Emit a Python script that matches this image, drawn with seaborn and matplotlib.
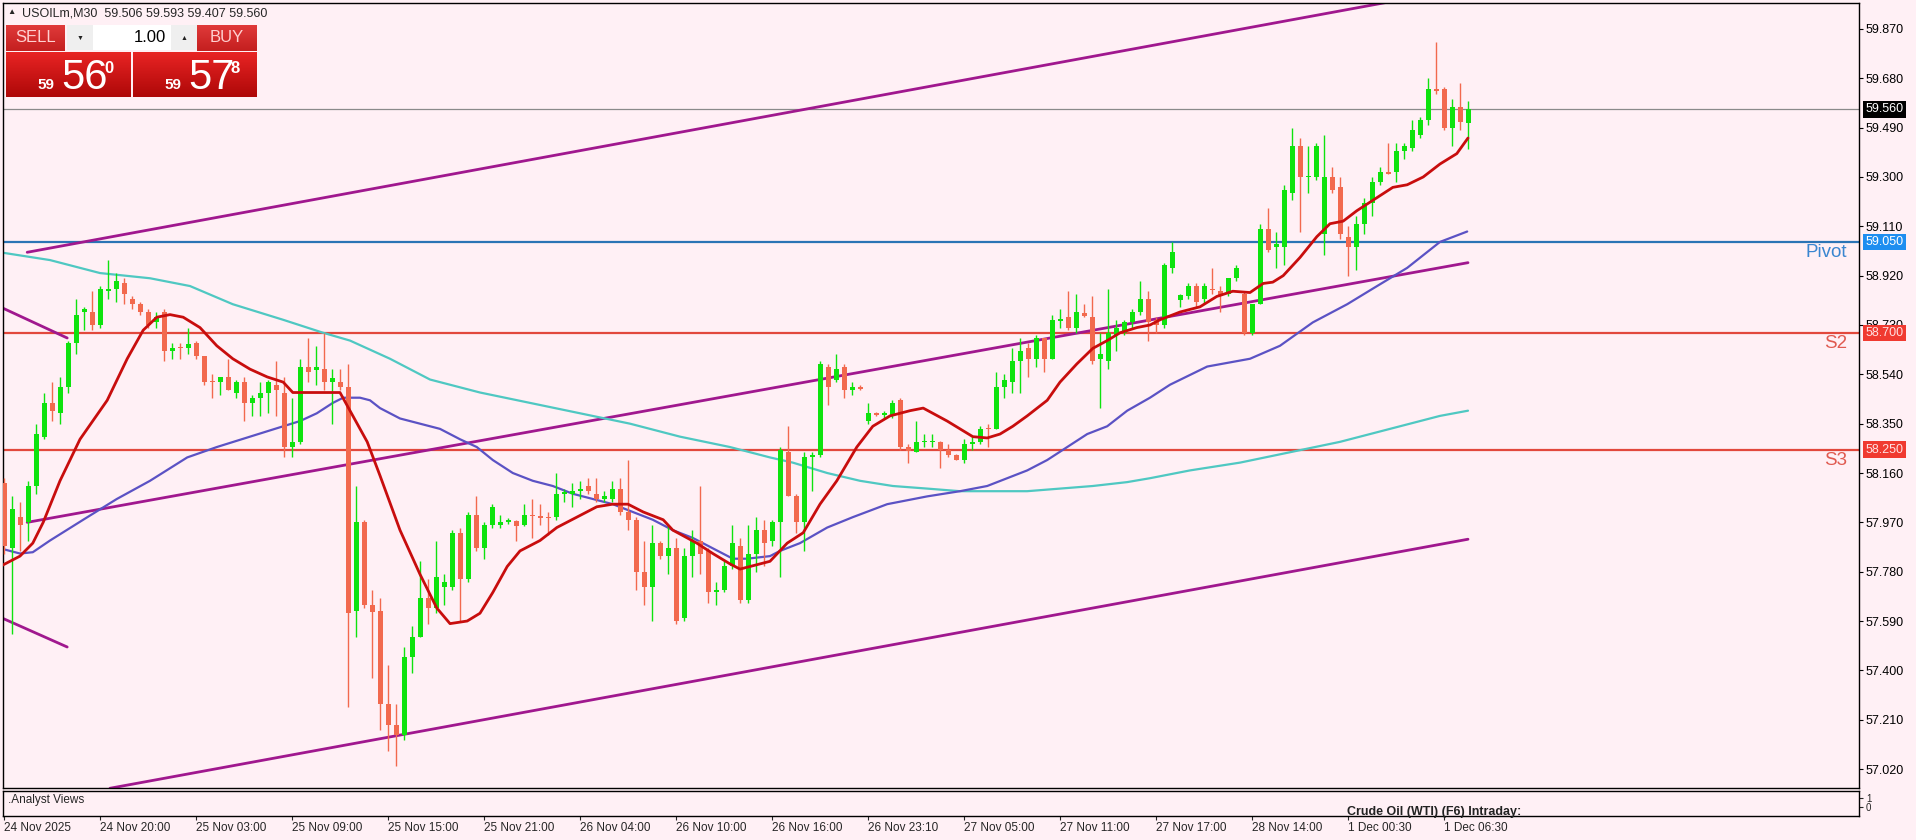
import numpy as np
import pandas as pd
import matplotlib.pyplot as plt
import seaborn as sns
from matplotlib.colors import LinearSegmentedColormap

# ---- candle data (USOILm, M30), bar index 0..183 ----
opens = [
    58.12, 57.87, 57.99, 57.97, 58.11, 58.30, 58.43, 58.39, 58.49, 58.66,
    58.78, 58.78, 58.73, 58.86, 58.87, 58.89, 58.83, 58.81, 58.78, 58.74,
    58.78, 58.63, 58.645, 58.64, 58.66, 58.61, 58.515, 58.51, 58.53, 58.47,
    58.51, 58.43, 58.45, 58.47, 58.50, 58.47, 58.26, 58.28, 58.57, 58.555,
    58.56, 58.51, 58.51, 58.49, 57.63, 57.97, 57.65, 57.63, 57.27, 57.19,
    57.15, 57.45, 57.53, 57.68, 57.64, 57.72, 57.72, 57.93, 57.75, 58.00,
    57.87, 57.96, 57.96, 57.97, 57.975, 57.96, 58.00, 57.995, 57.99, 57.99,
    58.08, 58.08, 58.09, 58.11, 58.08, 58.06, 58.06, 58.10, 58.01, 57.98,
    57.78, 57.72, 57.89, 57.84, 57.87, 57.60, 57.84, 57.90, 57.86, 57.70,
    57.71, 57.80, 57.88, 57.67, 57.85, 57.94, 57.90, 57.97, 58.24, 58.07,
    57.97, 58.22, 58.23, 58.57, 58.52, 58.57, 58.48, 58.49, 58.36, 58.39,
    58.385, 58.38, 58.44, 58.26, 58.24, 58.28, 58.28, 58.28, 58.25, 58.23,
    58.21, 58.27, 58.28, 58.335, 58.33, 58.49, 58.51, 58.59, 58.64, 58.60,
    58.68, 58.60, 58.745, 58.76, 58.72, 58.775, 58.76, 58.60, 58.59, 58.69,
    58.70, 58.74, 58.78, 58.83, 58.75, 58.73, 58.95, 58.826, 58.84, 58.88,
    58.83, 58.87, 58.86, 58.85, 58.91, 58.85, 58.70, 58.81, 59.10, 59.03,
    59.03, 59.24, 59.42, 59.30, 59.30, 59.08, 59.30, 59.26, 59.07, 59.03,
    59.12, 59.20, 59.28, 59.32, 59.32, 59.40, 59.41, 59.46, 59.52, 59.64,
    59.64, 59.49, 59.57, 59.506]
highs = [
    58.14, 58.07, 58.05, 58.13, 58.35, 58.47, 58.51, 58.53, 58.67, 58.83,
    58.80, 58.86, 58.88, 58.98, 58.93, 58.91, 58.84, 58.82, 58.79, 58.78,
    58.79, 58.66, 58.66, 58.72, 58.67, 58.61, 58.54, 58.53, 58.60, 58.52,
    58.53, 58.46, 58.51, 58.52, 58.59, 58.53, 58.45, 58.60, 58.68, 58.65,
    58.70, 58.56, 58.56, 58.58, 58.11, 57.98, 57.71, 57.68, 57.42, 57.27,
    57.49, 57.57, 57.82, 57.75, 57.90, 57.77, 57.94, 57.95, 58.01, 58.07,
    57.97, 58.04, 58.00, 57.985, 57.98, 58.04, 58.06, 58.04, 58.01, 58.16,
    58.10, 58.12, 58.13, 58.14, 58.14, 58.09, 58.13, 58.14, 58.21, 57.99,
    57.90, 57.96, 57.90, 57.96, 57.91, 57.87, 57.94, 58.11, 57.87, 57.74,
    57.82, 57.96, 57.91, 57.96, 57.99, 57.98, 57.98, 58.26, 58.34, 58.08,
    58.24, 58.24, 58.59, 58.58, 58.62, 58.58, 58.51, 58.50, 58.43, 58.395,
    58.40, 58.44, 58.45, 58.27, 58.36, 58.31, 58.31, 58.285, 58.27, 58.235,
    58.29, 58.30, 58.34, 58.35, 58.55, 58.54, 58.64, 58.68, 58.66, 58.69,
    58.68, 58.77, 58.79, 58.86, 58.85, 58.81, 58.84, 58.70, 58.87, 58.75,
    58.75, 58.79, 58.90, 58.86, 58.76, 58.97, 59.05, 58.85, 58.89, 58.89,
    58.89, 58.95, 58.88, 58.91, 58.96, 58.86, 58.81, 59.12, 59.18, 59.09,
    59.27, 59.49, 59.45, 59.42, 59.43, 59.46, 59.34, 59.30, 59.11, 59.15,
    59.22, 59.30, 59.34, 59.43, 59.43, 59.43, 59.52, 59.53, 59.68, 59.82,
    59.645, 59.60, 59.66, 59.593]
lows = [
    57.85, 57.54, 57.86, 57.90, 58.08, 58.29, 58.36, 58.35, 58.47, 58.62,
    58.71, 58.71, 58.72, 58.83, 58.82, 58.81, 58.79, 58.77, 58.72, 58.72,
    58.59, 58.60, 58.60, 58.62, 58.60, 58.50, 58.45, 58.46, 58.48, 58.45,
    58.36, 58.38, 58.38, 58.39, 58.38, 58.22, 58.22, 58.27, 58.51, 58.50,
    58.48, 58.35, 58.48, 57.26, 57.53, 57.64, 57.37, 57.17, 57.09, 57.03,
    57.13, 57.39, 57.53, 57.58, 57.62, 57.65, 57.71, 57.59, 57.74, 57.86,
    57.83, 57.95, 57.95, 57.965, 57.90, 57.955, 57.91, 57.96, 57.92, 57.98,
    58.05, 58.03, 58.06, 58.08, 58.05, 58.05, 58.05, 58.00, 57.94, 57.71,
    57.65, 57.59, 57.83, 57.77, 57.58, 57.59, 57.76, 57.77, 57.66, 57.65,
    57.70, 57.79, 57.66, 57.66, 57.78, 57.80, 57.88, 57.76, 58.07, 57.93,
    57.86, 58.09, 58.22, 58.42, 58.51, 58.45, 58.46, 58.48, 58.35, 58.38,
    58.37, 58.37, 58.25, 58.20, 58.24, 58.26, 58.26, 58.18, 58.22, 58.21,
    58.20, 58.25, 58.27, 58.26, 58.33, 58.45, 58.47, 58.47, 58.53, 58.57,
    58.55, 58.60, 58.72, 58.71, 58.70, 58.76, 58.58, 58.41, 58.56, 58.63,
    58.69, 58.72, 58.77, 58.67, 58.70, 58.72, 58.93, 58.80, 58.83, 58.80,
    58.81, 58.85, 58.78, 58.84, 58.90, 58.69, 58.69, 58.81, 59.01, 58.95,
    58.96, 59.21, 59.09, 59.24, 59.29, 59.00, 59.24, 59.06, 58.92, 58.94,
    59.08, 59.15, 59.27, 59.31, 59.28, 59.37, 59.40, 59.45, 59.50, 59.62,
    59.48, 59.42, 59.48, 59.407]
closes = [
    57.88, 58.02, 57.96, 58.11, 58.31, 58.43, 58.40, 58.49, 58.66, 58.77,
    58.79, 58.73, 58.87, 58.87, 58.90, 58.85, 58.81, 58.78, 58.73, 58.76,
    58.63, 58.64, 58.64, 58.655, 58.61, 58.51, 58.51, 58.53, 58.48, 58.51,
    58.43, 58.45, 58.47, 58.51, 58.48, 58.26, 58.28, 58.57, 58.55, 58.57,
    58.51, 58.525, 58.49, 57.62, 57.97, 57.65, 57.625, 57.27, 57.19, 57.15,
    57.45, 57.53, 57.68, 57.64, 57.76, 57.74, 57.93, 57.75, 58.00, 57.87,
    57.96, 58.03, 57.97, 57.98, 57.955, 58.00, 57.995, 57.985, 57.985, 58.08,
    58.085, 58.09, 58.10, 58.09, 58.06, 58.07, 58.10, 58.01, 57.98, 57.78,
    57.72, 57.89, 57.84, 57.87, 57.59, 57.84, 57.90, 57.85, 57.70, 57.71,
    57.80, 57.89, 57.67, 57.85, 57.94, 57.89, 57.97, 58.25, 58.07, 57.97,
    58.22, 58.23, 58.58, 58.49, 58.56, 58.48, 58.49, 58.485, 58.39, 58.385,
    58.39, 58.43, 58.26, 58.245, 58.28, 58.285, 58.285, 58.25, 58.23, 58.21,
    58.27, 58.28, 58.33, 58.33, 58.49, 58.52, 58.59, 58.63, 58.60, 58.68,
    58.60, 58.75, 58.755, 58.72, 58.78, 58.765, 58.59, 58.62, 58.70, 58.72,
    58.74, 58.78, 58.83, 58.74, 58.73, 58.96, 59.01, 58.845, 58.88, 58.82,
    58.88, 58.865, 58.84, 58.91, 58.95, 58.70, 58.81, 59.10, 59.02, 59.04,
    59.25, 59.42, 59.30, 59.305, 59.42, 59.30, 59.25, 59.08, 59.03, 59.12,
    59.20, 59.28, 59.32, 59.31, 59.40, 59.42, 59.48, 59.52, 59.64, 59.63,
    59.49, 59.57, 59.51, 59.560]

# ---- moving averages (bar position, price) ----
ma_fast_x = [-0.5, 2, 3.6, 4.9, 7, 9.5, 12.9, 15.4, 17.4, 19.1, 20.75, 22.4, 24.5, 26.6, 28.6,
             30.75, 32.9, 34.9, 36.1, 37.9, 42, 43.25, 45.4, 47, 49.5, 52, 54.1, 55.75, 57.9,
             59.5, 61.1, 62.9, 64.5, 67, 69.1, 71.6, 74.1, 76.1, 78, 79.9, 82.4, 83.6, 86.6,
             88.6, 90.75, 92, 93.25, 95.75, 97.9, 99.9, 102, 104.1, 106.6, 108.6, 110.75, 112,
             113.25, 114.9, 116.1, 117.9, 119.5, 121.1, 122.9, 124.5, 126.1, 127.9, 130.4, 132,
             134.1, 136.1, 137.9, 139.5, 141.6, 143.25, 144.5, 147, 149.5, 151.6, 153.6, 155.75,
             157.4, 158.6, 159.9, 162, 164.1, 165.75, 167.4, 169.1, 171.1, 173.6, 175.4, 177.4,
             179.5, 181.6, 183]
ma_fast_y = [57.80, 57.84, 57.89, 57.97, 58.13, 58.29, 58.44, 58.60, 58.71, 58.76, 58.77, 58.76,
             58.72, 58.65, 58.60, 58.56, 58.53, 58.51, 58.47, 58.47, 58.47, 58.40, 58.28, 58.15,
             57.94, 57.77, 57.64, 57.58, 57.59, 57.62, 57.70, 57.80, 57.86, 57.90, 57.95, 57.99,
             58.03, 58.04, 58.04, 58.01, 57.98, 57.94, 57.89, 57.85, 57.81, 57.79, 57.80, 57.82,
             57.89, 57.93, 58.04, 58.13, 58.26, 58.34, 58.38, 58.39, 58.40, 58.41, 58.39, 58.36,
             58.33, 58.30, 58.295, 58.31, 58.34, 58.38, 58.44, 58.51, 58.58, 58.64, 58.67, 58.70,
             58.72, 58.73, 58.75, 58.78, 58.80, 58.84, 58.86, 58.855, 58.89, 58.895, 58.92, 58.99,
             59.07, 59.12, 59.13, 59.17, 59.21, 59.26, 59.27, 59.30, 59.35, 59.39, 59.45]
ma_mid_x = [-0.5, 2, 3.6, 5.75, 9.9, 14.1, 18.25, 22.9, 26.6, 30.75, 34.9, 37, 39.1, 41.1, 42.4,
            44.5, 45.75, 47, 49.5, 52, 54.5, 57, 59.1, 61.1, 63.6, 66.1, 68.6, 71.1, 73.6, 76.1,
            78.6, 81.1, 83.6, 86.1, 88.6, 91.1, 92.9, 95.75, 97, 99.5, 102.9, 106.1, 110.4, 115.4,
            119.5, 122.9, 125.4, 127.9, 130.4, 132.9, 135.4, 137.9, 140.4, 143.25, 145.75, 150.4,
            155.75, 159.5, 163.6, 167.9, 171.1, 175.4, 179.5, 182.9]
ma_mid_y = [57.87, 57.85, 57.855, 57.90, 57.98, 58.06, 58.13, 58.22, 58.26, 58.30, 58.34, 58.36,
            58.39, 58.43, 58.45, 58.45, 58.44, 58.41, 58.37, 58.35, 58.33, 58.29, 58.26, 58.21,
            58.16, 58.13, 58.11, 58.08, 58.06, 58.04, 58.01, 57.98, 57.94, 57.91, 57.87, 57.83,
            57.83, 57.84, 57.86, 57.89, 57.95, 57.99, 58.04, 58.07, 58.09, 58.11, 58.14, 58.17,
            58.21, 58.26, 58.31, 58.34, 58.40, 58.45, 58.50, 58.57, 58.60, 58.65, 58.74, 58.81,
            58.87, 58.95, 59.05, 59.09]
ma_slow_x = [-0.5, 5.75, 12, 18.25, 23.25, 28.6, 34.9, 39.9, 43.25, 48.25, 53.25, 59.5, 65.75, 72,
             78.25, 84.5, 90.75, 95.75, 98.6, 102.9, 107, 111.1, 115.4, 119.5, 123.6, 127.9, 132,
             136.1, 140.4, 143.25, 148.25, 154.5, 160.75, 167, 173.25, 179.5, 183]
ma_slow_y = [59.01, 58.98, 58.93, 58.91, 58.88, 58.81, 58.75, 58.70, 58.67, 58.60, 58.52, 58.47,
             58.43, 58.39, 58.35, 58.30, 58.26, 58.22, 58.20, 58.16, 58.13, 58.11, 58.10, 58.09,
             58.09, 58.09, 58.10, 58.11, 58.125, 58.14, 58.17, 58.20, 58.24, 58.28, 58.33, 58.38,
             58.40]

# ---- drawn objects: trend lines (bar, price anchors) and levels ----
trend_lines = [
    ([2.9, 183], [59.01, 60.03]),
    ([2.9, 183], [57.97, 58.97]),
    ([13.25, 183], [56.946, 57.905]),
    ([-0.5, 7.9], [58.80, 58.68]),
    ([-0.5, 7.9], [57.605, 57.49]),
]
levels = [("Pivot", 59.050), ("S2", 58.700), ("S3", 58.250)]
last_price = 59.560
y_ticks = [57.020, 57.210, 57.400, 57.590, 57.780, 57.970, 58.160, 58.350,
           58.540, 58.730, 58.920, 59.110, 59.300, 59.490, 59.680, 59.870]
x_tick_bars = list(range(0, 181, 12))
x_tick_labels = ["24 Nov 2025", "24 Nov 20:00", "25 Nov 03:00", "25 Nov 09:00", "25 Nov 15:00",
                 "25 Nov 21:00", "26 Nov 04:00", "26 Nov 10:00", "26 Nov 16:00", "26 Nov 23:10",
                 "27 Nov 05:00", "27 Nov 11:00", "27 Nov 17:00", "28 Nov 14:00", "1 Dec 00:30",
                 "1 Dec 06:30"]

# ---- style ----
sns.set_theme(style="white")
plt.rcParams['font.family'] = ['Liberation Sans', 'DejaVu Sans']
bg = "#fff0f5"
up_col, dn_col = "#0ee30e", "#f2694e"
narrow = ['Liberation Sans Narrow', 'Liberation Sans', 'DejaVu Sans']

df = pd.DataFrame({"open": opens, "high": highs, "low": lows, "close": closes})
df["bar"] = np.arange(len(df))
df["col"] = np.where(df["close"] >= df["open"], up_col, dn_col)

W, H = 1916, 840
fig = plt.figure(figsize=(W / 100, H / 100), dpi=100, facecolor=bg)
ax = fig.add_axes([3 / W, 1 - 788 / H, 1856 / W, 785 / H], facecolor=bg)
ax_ind = fig.add_axes([3 / W, 1 - 816 / H, 1856 / W, 25 / H], facecolor=bg)

xlim = (-0.125, 231.875)

# levels and current price
for name, lvl in levels:
    c = "#2b74b5" if name == "Pivot" else "#e2483c"
    ax.axhline(lvl, color=c, lw=1.6, zorder=1)
ax.axhline(last_price, color="#8a8a8a", lw=0.9, zorder=1)

# trend lines
for xs, ys in trend_lines:
    sns.lineplot(x=xs, y=ys, ax=ax, color="#a0188e", lw=2.0, estimator=None, sort=False, zorder=2)

# moving averages
sns.lineplot(x=ma_slow_x, y=ma_slow_y, ax=ax, color="#4fc8c2", lw=1.6, estimator=None, zorder=2)
sns.lineplot(x=ma_mid_x, y=ma_mid_y, ax=ax, color="#5b52c4", lw=1.6, estimator=None, zorder=2)

# candles
ax.vlines(df["bar"], df["low"], df["high"], colors=df["col"], lw=1.0, zorder=3)
body = np.maximum((df["close"] - df["open"]).abs(), 0.004)
ax.bar(df["bar"], body, bottom=np.minimum(df["open"], df["close"]), width=0.625,
       color=df["col"], linewidth=0, zorder=4)

sns.lineplot(x=ma_fast_x, y=ma_fast_y, ax=ax, color="#c80d0d", lw=2.0, estimator=None, zorder=5)

ax.set_xlim(*xlim)
ax.set_ylim(56.947, 59.970)
ax.set_xticks([])
ax.yaxis.tick_right()
ax.set_yticks(y_ticks)
ax.set_yticklabels([f"{v:.3f}" for v in y_ticks])
ax.tick_params(axis="y", which="both", right=True, length=3, width=0.8, pad=2,
               labelsize=9, colors="black")
ax.set_xlabel("")
ax.set_ylabel("")
for s in ax.spines.values():
    s.set_color("black")
    s.set_linewidth(1.0)

# level names and right-side price boxes
ytr = ax.get_yaxis_transform()
for name, lvl in levels:
    tc = "#3a86d0" if name == "Pivot" else "#e05a50"
    ax.text(0.9935, lvl - 0.008, name, transform=ytr, ha="right", va="top",
            fontsize=13.5, color=tc, zorder=6)
box_specs = [(last_price, "black", "white"), (59.050, "#1e8ef0", "white"),
             (58.700, "#f03a30", "#ffe0e0"), (58.250, "#f03a30", "#ffe0e0")]
for lvl, fc, tc in box_specs:
    ax.text(1.0036, lvl, f"{lvl:.3f}", transform=ytr, ha="left", va="center",
            fontsize=9, color=tc, zorder=10, clip_on=False,
            bbox=dict(boxstyle="square,pad=0.18", fc=fc, ec="none"))

# indicator panel
ax_ind.set_xlim(*xlim)
ax_ind.set_ylim(-1, 1.78)
ax_ind.yaxis.tick_right()
ax_ind.set_yticks([0, 1])
ax_ind.set_yticklabels(["0", "1"])
ax_ind.tick_params(axis="y", right=True, length=3, width=0.8, pad=2, labelsize=7)
ax_ind.set_xticks(x_tick_bars)
ax_ind.set_xticklabels(x_tick_labels, ha="left")
ax_ind.tick_params(axis="x", bottom=True, length=3, width=0.8, pad=1, labelsize=8.5)
for s in ax_ind.spines.values():
    s.set_color("black")
    s.set_linewidth(1.0)
ax_ind.text(0.0027, 0.64, ".Analyst Views", transform=ax_ind.transAxes,
            fontsize=8.5, va="center", ha="left")
ax_ind.text(0.7241, 0.18, "Crude Oil (WTI) (F6) Intraday:", transform=ax_ind.transAxes,
            fontsize=9, fontweight="bold", va="center", ha="left", color="#222222")

# header
fig.text(7 / W, 1 - 13 / H, "\u25b2", fontsize=6, va="center", ha="left")
fig.text(22 / W, 1 - 13 / H, "USOILm,M30  59.506 59.593 59.407 59.560",
         fontsize=9, va="center", ha="left")

# one-click trading panel
ov = fig.add_axes([0, 0, 1, 1], facecolor="none")
ov.set_zorder(20)
grad = np.linspace(0, 1, 64).reshape(-1, 1)
red_top = LinearSegmentedColormap.from_list("rt", ["#e03a3a", "#c41f1f"])
red_px = LinearSegmentedColormap.from_list("rp", ["#e82424", "#ae0808"])
for x0, x1 in [(6, 65), (197, 257)]:
    ov.imshow(grad, extent=(x0, x1, 51, 25), cmap=red_top, aspect="auto")
for x0, x1 in [(6, 131), (133, 257)]:
    ov.imshow(grad, extent=(x0, x1, 97, 52), cmap=red_px, aspect="auto")
ov.imshow(np.ones((2, 2)), extent=(67, 93, 50, 25), cmap="Greys", vmin=0, vmax=8, aspect="auto")
ov.imshow(np.ones((2, 2)), extent=(171, 197, 50, 25), cmap="Greys", vmin=0, vmax=8, aspect="auto")
ov.imshow(np.zeros((2, 2)), extent=(93, 171, 50, 25), cmap="Greys", vmin=0, vmax=1, aspect="auto")
ov.text(36, 38, "SELL", color="#ffd0d0", fontsize=12, ha="center", va="center")
ov.text(227, 38, "BUY", color="#ffd0d0", fontsize=12, ha="center", va="center")
ov.text(80, 38, "\u25bc", fontsize=5, ha="center", va="center", color="#222222")
ov.text(184, 38, "\u25b2", fontsize=5, ha="center", va="center", color="#222222")
ov.text(166, 38, "1.00", fontsize=12, ha="right", va="center", color="black")
ov.text(37, 89, "59", fontsize=11, fontweight="bold", color="white", va="baseline")
ov.text(61, 89, "56", fontsize=30, color="white", va="baseline", family=narrow)
ov.text(104, 73, "0", fontsize=12, fontweight="bold", color="white", va="baseline")
ov.text(164, 89, "59", fontsize=11, fontweight="bold", color="white", va="baseline")
ov.text(188, 89, "57", fontsize=30, color="white", va="baseline", family=narrow)
ov.text(231, 73, "8", fontsize=12, fontweight="bold", color="white", va="baseline")
ov.set_xlim(0, W)
ov.set_ylim(H, 0)
ov.axis("off")

fig.savefig("out.png", dpi=100, facecolor=bg)
